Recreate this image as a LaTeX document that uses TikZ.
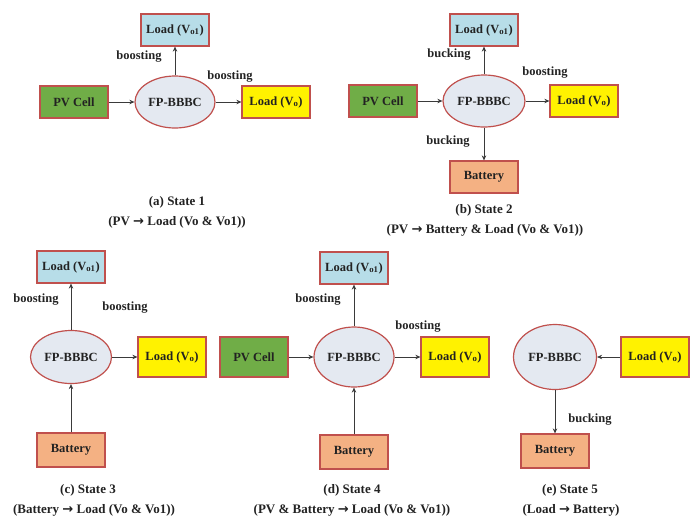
\documentclass[tikz,border=0pt]{standalone}
\usepackage{fontspec}
\setmainfont{Liberation Serif}
\newfontfamily\symfont{DejaVu Sans}
\newcommand\flowto{{\symfont\bfseries →}}
\usetikzlibrary{shapes.geometric, arrows.meta}

\definecolor{rim}{HTML}{C0504D}
\definecolor{pvgreen}{HTML}{70AD47}
\definecolor{loadblue}{HTML}{B7DDE8}
\definecolor{batsalmon}{HTML}{F4B183}
\definecolor{convfill}{HTML}{E4E9F1}
\definecolor{wire}{HTML}{3A3A3A}
\definecolor{ink}{HTML}{222222}

\tikzset{
  txt/.style={text=ink, font=\fontsize{12.5}{15}\selectfont\bfseries},
  captxt/.style={text=ink, font=\fontsize{13}{15}\selectfont\bfseries},
  blk/.style={txt, draw=rim, line width=1.2pt, minimum width=68pt, minimum height=32pt, inner sep=2pt},
  pv/.style={blk, fill=pvgreen},
  vo/.style={blk, fill=yellow},
  voone/.style={blk, fill=loadblue},
  bat/.style={blk, fill=batsalmon},
  conv/.style={txt, ellipse, draw=rim, line width=1.2pt, fill=convfill,
    minimum width=80pt, minimum height=52pt, inner sep=0pt},
  flow/.style={->, wire, line width=1pt},
}

\begin{document}
\begin{tikzpicture}[x=1pt, y=-1pt, >={Stealth[length=5pt, width=4.5pt]}]
  \useasboundingbox (0,0) rectangle (690,523);

  % (a) State 1
  \node[pv] (a-pv) at (74,102) {PV Cell};
  \node[conv] (a-conv) at (175,102) {FP-BBBC};
  \node[vo] (a-vo) at (276,102) {Load (V\textsubscript{o})};
  \node[voone] (a-vo1) at (175,30) {Load (V\textsubscript{o1})};
  \draw[flow] (a-pv) -- (a-conv);
  \draw[flow] (a-conv) -- (a-vo);
  \draw[flow] (a-conv) -- (a-vo1);
  \node[txt] (a-up) at (139,57) {boosting};
  \node[txt] (a-right) at (230,77) {boosting};
  \node[captxt] (a-cap) at (177,202) {(a) State 1};
  \node[captxt] (a-cap2) at (177,222) {(PV \flowto{} Load (Vo \& Vo1))};

  % (b) State 2
  \node[pv] (b-pv) at (383,101) {PV Cell};
  \node[conv, minimum width=82pt] (b-conv) at (484,101) {FP-BBBC};
  \node[vo] (b-vo) at (584,101) {Load (V\textsubscript{o})};
  \node[voone] (b-vo1) at (484,30) {Load (V\textsubscript{o1})};
  \node[bat] (b-bat) at (484,177) {Battery};
  \draw[flow] (b-pv) -- (b-conv);
  \draw[flow] (b-conv) -- (b-vo);
  \draw[flow] (b-conv) -- (b-vo1);
  \draw[flow] (b-conv) -- (b-bat);
  \node[txt] (b-up) at (449,55) {bucking};
  \node[txt] (b-right) at (545,73) {boosting};
  \node[txt] (b-down) at (448,142) {bucking};
  \node[captxt] (b-cap) at (484,210) {(b) State 2};
  \node[captxt] (b-cap2) at (485,230) {(PV \flowto{} Battery \& Load (Vo \& Vo1))};

  % (c) State 3
  \node[conv, minimum width=81pt, minimum height=53pt] (c-conv) at (71,357) {FP-BBBC};
  \node[vo, minimum height=40pt] (c-vo) at (172,357) {Load (V\textsubscript{o})};
  \node[voone] (c-vo1) at (71,267) {Load (V\textsubscript{o1})};
  \node[bat, minimum height=34pt] (c-bat) at (71,450) {Battery};
  \draw[flow] (c-conv) -- (c-vo);
  \draw[flow] (c-conv) -- (c-vo1);
  \draw[flow] (c-bat) -- (c-conv);
  \node[txt] (c-up) at (36,300) {boosting};
  \node[txt] (c-right) at (125,308) {boosting};
  \node[captxt] (c-cap) at (88,490) {(c) State 3};
  \node[captxt] (c-cap2) at (94,510) {(Battery \flowto{} Load (Vo \& Vo1))};

  % (d) State 4
  \node[pv, minimum height=40pt] (d-pv) at (254,357) {PV Cell};
  \node[conv, minimum height=60pt] (d-conv) at (354,357) {FP-BBBC};
  \node[vo, minimum height=40pt] (d-vo) at (455,357) {Load (V\textsubscript{o})};
  \node[voone] (d-vo1) at (354,268) {Load (V\textsubscript{o1})};
  \node[bat, minimum height=34pt] (d-bat) at (354,452) {Battery};
  \draw[flow] (d-pv) -- (d-conv);
  \draw[flow] (d-conv) -- (d-vo);
  \draw[flow] (d-conv) -- (d-vo1);
  \draw[flow] (d-bat) -- (d-conv);
  \node[txt] (d-up) at (318,300) {boosting};
  \node[txt] (d-right) at (418,327) {boosting};
  \node[captxt] (d-cap) at (352,490) {(d) State 4};
  \node[captxt] (d-cap2) at (352,510) {(PV \& Battery \flowto{} Load (Vo \& Vo1))};

  % (e) State 5
  \node[conv, minimum width=83pt, minimum height=65pt] (e-conv) at (555,357) {FP-BBBC};
  \node[vo, minimum height=40pt] (e-vo) at (655,357) {Load (V\textsubscript{o})};
  \node[bat, minimum height=34pt] (e-bat) at (555,451) {Battery};
  \draw[flow] (e-vo) -- (e-conv);
  \draw[flow] (e-conv) -- (e-bat);
  \node[txt] (e-down) at (590,420) {bucking};
  \node[captxt] (e-cap) at (570,490) {(e) State 5};
  \node[captxt] (e-cap2) at (571,510) {(Load \flowto{} Battery)};
\end{tikzpicture}
\end{document}
